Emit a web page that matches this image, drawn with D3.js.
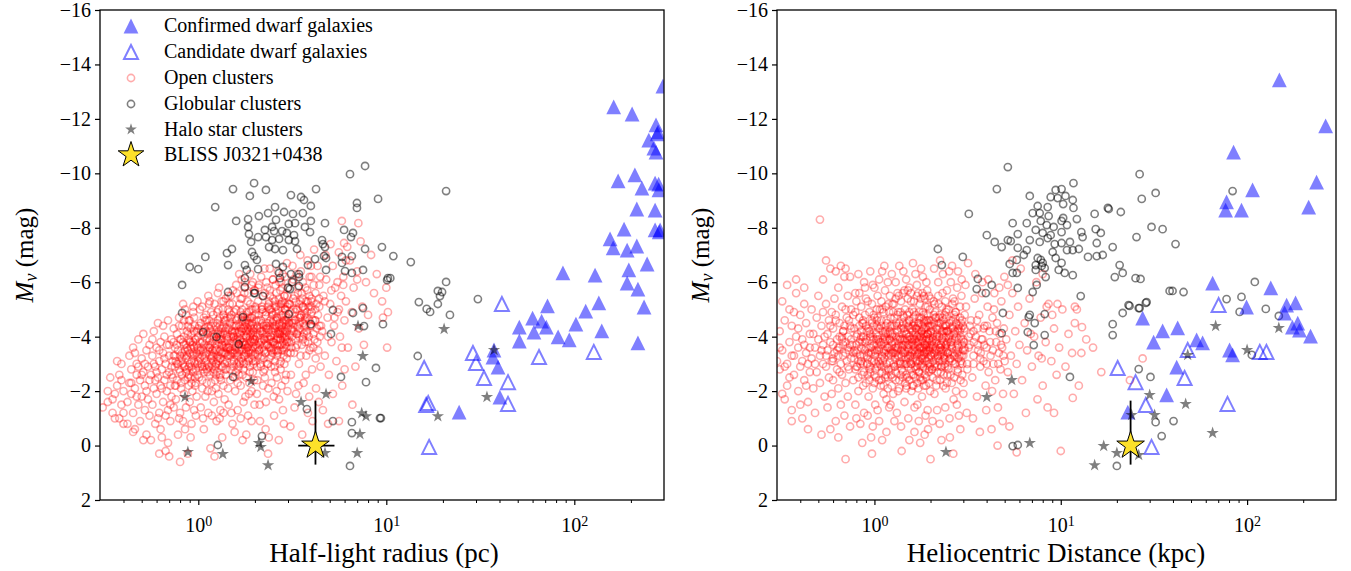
<!DOCTYPE html>
<html><head><meta charset="utf-8">
<script src="https://cdn.jsdelivr.net/npm/d3@7"></script>
<style>
body{margin:0;background:#fff}
svg{display:block}
text{font-family:"Liberation Serif","Times New Roman",serif;fill:#000}
</style>
</head><body>
<svg id="c" width="1351" height="571"></svg>
<script>
// ---------------- tick labels / legend ----------------
const yTicks = [-16,-14,-12,-10,-8,-6,-4,-2,0,2];
const xMajor = [1,10,100];
const xMinor = [0.4,0.5,0.6,0.7,0.8,0.9,2,3,4,5,6,7,8,9,20,30,40,50,60,70,80,90,200];
const legendLabels = ["Confirmed dwarf galaxies","Candidate dwarf galaxies","Open clusters","Globular clusters","Halo star clusters","BLISS J0321+0438"];
const xLabels = ["Half-light radius (pc)","Heliocentric Distance (kpc)"];

// ---------------- LEFT PANEL: [half-light radius pc, Mv] ----------------
const dwarfL = [[162,-12.44],[203,-12.18],[272,-11.78],[279,-11.52],[276,-11.45],[249,-11.22],[265,-10.93],[272,-10.78],[296,-13.2],[171,-9.72],[210,-9.94],[229,-9.46],[269,-9.64],[281,-9.6],[282,-9.39],[215,-8.69],[269,-8.65],[286,-7.92],[283,-7.85],[269,-7.92],[184,-7.95],[155,-7.59],[161,-7.26],[191,-7.18],[215,-7.33],[87,-6.34],[129,-6.26],[195,-6.45],[244,-6.67],[191,-5.97],[218,-5.75],[235,-5.09],[72,-5.13],[115,-4.94],[135,-5.24],[60,-4.68],[67,-4.57],[51,-4.35],[71,-4.35],[61,-4.17],[102,-4.46],[140,-4.21],[51,-3.84],[82,-3.99],[94,-3.88],[218,-3.77],[37.4,-3.51],[36.9,-3.25],[39.3,-2.88],[40.2,-1.78],[24.4,-1.23]];
const candL = [[41.2,-5.20],[64.9,-3.25],[127,-3.44],[15.9,-2.85],[28.9,-3.40],[30.0,-3.03],[33.1,-2.48],[44.4,-2.33],[44.4,-1.53],[16.7,-1.56],[16.3,-1.49],[16.9,0.05]];
const haloL = [[0.85,-1.78],[1.91,-2.37],[0.88,0.24],[1.35,0.31],[2.10,-0.09],[2.15,0.05],[2.35,0.72],[3.52,-1.60],[4.78,-1.89],[4.72,0.27],[7.07,-4.39],[7.5,-3.29],[7.4,-1.19],[7.8,-1.08],[7.24,-0.42],[7.0,0.27],[20.3,-4.28],[18.8,-1.08],[34.3,-1.78],[37.4,-3.51]];
const globL = [[7.71,-10.27],[6.41,-9.97],[1.98,-9.64],[1.53,-9.42],[2.29,-9.39],[1.88,-9.17],[4.23,-9.42],[3.11,-9.20],[3.52,-9.13],[3.65,-9.02],[9.04,-9.06],[6.98,-8.91],[6.98,-8.73],[1.23,-8.76],[3.97,-8.80],[2.56,-8.76],[2.35,-8.54],[2.86,-8.58],[3.19,-8.51],[3.60,-8.54],[2.10,-8.43],[1.84,-8.32],[1.59,-8.25],[2.59,-8.29],[3.03,-8.14],[3.27,-8.17],[3.97,-8.25],[4.72,-8.17],[1.84,-8.03],[2.47,-8.03],[2.26,-7.92],[2.53,-7.88],[2.79,-7.88],[2.96,-7.81],[3.23,-7.73],[3.69,-8.03],[3.93,-7.84],[5.96,-7.92],[6.65,-7.81],[6.49,-7.66],[0.90,-7.59],[1.86,-7.77],[2.08,-7.66],[2.29,-7.66],[2.47,-7.55],[2.69,-7.59],[3.03,-7.55],[3.27,-7.51],[4.55,-7.55],[4.60,-7.40],[1.91,-7.48],[2.38,-7.29],[2.56,-7.22],[2.82,-7.18],[3.35,-7.22],[4.72,-7.29],[1.51,-7.22],[1.42,-7.07],[1.93,-7.11],[4.66,-6.96],[4.78,-6.89],[7.71,-7.22],[9.48,-7.29],[10.9,-6.96],[1.09,-6.93],[4.18,-6.85],[5.81,-6.93],[6.56,-6.96],[1.98,-6.96],[2.05,-6.82],[1.44,-6.63],[1.77,-6.63],[2.59,-6.67],[2.82,-6.56],[3.83,-6.63],[5.81,-6.71],[0.90,-6.56],[1.00,-6.48],[1.81,-6.45],[2.08,-6.48],[2.69,-6.34],[3.11,-6.30],[3.43,-6.30],[4.78,-6.45],[6.03,-6.41],[6.56,-6.34],[7.52,-6.45],[13.5,-6.74],[10.2,-6.15],[10.5,-6.15],[1.77,-6.15],[2.72,-6.15],[3.43,-6.19],[3.15,-6.01],[3.43,-5.86],[3.00,-5.79],[0.82,-5.90],[1.77,-5.82],[1.44,-5.64],[1.98,-5.60],[2.21,-5.49],[2.00,-5.60],[3.07,-5.75],[14.9,-5.27],[0.82,-4.87],[1.73,-4.72],[3.03,-4.83],[5.20,-4.98],[6.65,-4.87],[7.52,-5.05],[3.97,-4.46],[5.08,-4.10],[7.61,-4.39],[9.60,-4.46],[1.06,-4.17],[1.25,-3.99],[1.64,-3.73],[1.53,-2.52],[5.74,-2.52],[7.80,-2.33],[8.81,-2.85],[3.78,-1.34],[5.20,-0.90],[6.56,-0.86],[6.56,-0.46],[9.25,-1.01],[2.18,-0.35],[1.27,-0.02],[6.41,0.75],[10.1,-6.08],[20.8,-6.01],[18.8,-5.68],[19.8,-5.64],[19.3,-5.49],[16.4,-5.02],[17.1,-4.91],[18.8,-5.20],[21.8,-4.80],[30.7,-5.38],[14.7,-3.29],[9.36,-1.01],[20.8,-9.35]];
const openL = [
[0.31,-1.4],[0.33,-1.6],[0.35,-1.2],[0.34,-2.5],[0.36,-1.9],[0.37,-2.2],[0.38,-1.0],[0.38,-2.6],[0.39,-1.5],[0.39,-3.0],[0.40,-2.0],[0.40,-0.8],[0.36,-1.0],[0.33,-2.0],[0.37,-3.1],[0.40,-1.2],[0.39,-2.4],[0.35,-1.7],
[0.42,-0.8],[0.42,-1.6],[0.43,-2.3],[0.43,-3.3],[0.44,-1.9],[0.44,-2.8],[0.45,-1.2],[0.45,-3.6],[0.46,-2.1],[0.46,-0.6],[0.47,-2.6],[0.47,-3.0],[0.48,-1.5],[0.48,-3.9],[0.49,-2.4],[0.49,-0.9],[0.50,-3.2],[0.50,-1.8],[0.51,-2.7],[0.51,-4.1],[0.52,-1.3],[0.52,-2.2],[0.53,-3.5],[0.53,-0.4],[0.54,-2.9],[0.54,-1.7],[0.55,-3.7],[0.55,-2.4],[0.44,-2.3],[0.47,-1.8],[0.50,-2.6],[0.53,-2.0],[0.48,-2.9],[0.52,-3.0],[0.46,-3.4],[0.55,-1.1],[0.45,-0.5],[0.51,-0.2],
[0.56,-0.2],[0.56,-2.6],[0.57,-3.3],[0.57,-1.5],[0.58,-4.2],[0.58,-2.1],[0.59,-2.9],[0.59,-0.8],[0.60,-3.6],[0.60,-1.9],[0.61,-2.5],[0.61,-4.5],[0.62,-3.1],[0.62,-1.2],[0.63,-2.2],[0.63,-3.8],[0.64,-0.3],[0.64,-2.8],[0.65,-3.4],[0.65,-1.6],[0.66,-4.0],[0.66,-2.4],[0.67,-3.0],[0.67,0.2],[0.68,-2.0],[0.68,-3.7],[0.69,-1.3],[0.69,-4.6],[0.70,-2.7],[0.70,-3.3],[0.71,-0.9],[0.71,-2.2],[0.72,-3.9],[0.72,-1.8],[0.73,-3.1],[0.73,-2.5],[0.74,-4.3],[0.74,-1.4],[0.75,-2.9],[0.75,-3.6],[0.58,-3.0],[0.60,-2.7],[0.62,-3.5],[0.64,-2.1],[0.66,-3.2],[0.68,-2.6],[0.70,-3.7],[0.72,-2.9],[0.74,-3.3],[0.63,-0.6],[0.69,-0.1],[0.57,-3.9],[0.61,-1.0],[0.65,-4.4],[0.71,-1.5],[0.75,-2.2],[0.59,-2.4],[0.67,-1.1],[0.62,0.3],[0.70,0.4],
[0.76,-3.1],[0.76,-1.7],[0.77,-4.1],[0.77,-2.4],[0.78,-3.5],[0.78,-0.4],[0.79,-2.8],[0.79,-4.7],[0.80,-1.2],[0.80,-3.3],[0.81,-2.1],[0.81,-3.9],[0.82,-2.6],[0.82,-4.4],[0.83,-0.9],[0.83,-3.0],[0.84,-1.9],[0.84,-3.7],[0.85,-2.4],[0.85,-5.0],[0.86,-3.2],[0.86,-1.4],[0.87,-4.2],[0.87,-2.8],[0.88,0.3],[0.88,-3.5],[0.89,-2.2],[0.89,-4.6],[0.90,-3.0],[0.90,-1.6],[0.91,-3.8],[0.91,-2.5],[0.92,-4.1],[0.92,-0.8],[0.93,-3.3],[0.93,-2.0],[0.94,-4.9],[0.94,-2.7],[0.95,-3.6],[0.95,-1.3],[0.96,-3.0],[0.96,-4.4],[0.97,-2.3],[0.97,-3.9],[0.98,-1.8],[0.98,-3.4],[0.99,-2.6],[0.99,-5.3],[1.00,-3.1],[1.00,-4.0],[0.78,-3.0],[0.80,-2.7],[0.82,-3.4],[0.84,-2.9],[0.86,-3.7],[0.88,-2.5],[0.90,-3.4],[0.92,-2.9],[0.94,-3.8],[0.96,-2.2],[0.98,-4.2],[0.79,-1.0],[0.85,-0.6],[0.91,-0.3],[0.97,-1.1],[0.83,-5.2],[0.89,-3.9],[0.95,-4.7],[0.77,-3.7],[0.81,-3.1],[0.87,-3.3],[0.93,-3.7],[0.99,-3.6],[0.76,-2.2],[0.84,-4.6],[0.92,-2.3],[0.80,0.6],
[1.01,-2.5],[1.02,-3.8],[1.03,-1.4],[1.03,-4.5],[1.04,-3.0],[1.05,-2.1],[1.05,-5.1],[1.06,-3.5],[1.07,-0.6],[1.07,-4.0],[1.08,-2.7],[1.09,-3.3],[1.09,-1.8],[1.10,-4.8],[1.11,-3.9],[1.11,-2.3],[1.12,-3.0],[1.13,-5.5],[1.13,-1.2],[1.14,-3.6],[1.15,-2.6],[1.15,-4.3],[1.16,0.1],[1.17,-3.2],[1.17,-4.9],[1.18,-2.0],[1.19,-3.8],[1.19,-2.9],[1.20,-4.5],[1.21,-1.6],[1.21,-3.4],[1.22,-5.2],[1.23,-2.4],[1.23,-4.1],[1.24,-3.0],[1.25,-0.9],[1.25,-3.7],[1.26,-2.7],[1.27,-4.6],[1.27,-3.3],[1.28,-1.9],[1.29,-4.0],[1.29,-5.8],[1.30,-2.5],[1.31,-3.5],[1.31,-1.3],[1.32,-4.3],[1.33,-2.9],[1.33,-3.9],[1.34,-0.3],[1.35,-3.1],[1.35,-5.0],[1.36,-2.2],[1.37,-4.7],[1.37,-3.6],[1.38,-1.7],[1.39,-4.2],[1.39,-2.8],[1.40,-3.4],[1.40,-5.4],[1.02,-3.2],[1.04,-4.2],[1.06,-2.8],[1.08,-3.7],[1.10,-3.1],[1.12,-4.1],[1.14,-2.9],[1.16,-3.7],[1.18,-3.3],[1.20,-2.7],[1.22,-3.6],[1.24,-4.4],[1.26,-3.2],[1.28,-3.8],[1.30,-4.4],[1.32,-3.2],[1.34,-3.7],[1.36,-4.1],[1.38,-3.0],[1.12,-2.0],[1.18,-1.1],[1.24,-2.1],[1.30,-1.0],[1.36,-1.2],[1.06,-1.0],[1.22,0.4],[1.09,-4.6],[1.15,-5.3],[1.27,-5.6],[1.33,-5.3],[1.03,-3.5],[1.19,-3.5],[1.31,-2.6],[1.38,-4.6],[1.14,-4.6],[1.26,-4.9],
[1.41,-2.8],[1.42,-4.0],[1.43,-3.3],[1.44,-5.0],[1.45,-1.5],[1.46,-3.7],[1.47,-4.5],[1.48,-2.4],[1.49,-5.5],[1.50,-3.1],[1.51,-4.2],[1.52,-0.8],[1.53,-3.8],[1.54,-2.9],[1.55,-4.9],[1.56,-3.4],[1.57,-2.0],[1.58,-4.4],[1.59,-5.9],[1.60,-3.0],[1.61,-3.9],[1.62,-1.3],[1.63,-4.7],[1.64,-2.6],[1.65,-3.5],[1.66,-5.2],[1.67,-4.1],[1.68,-2.2],[1.69,-3.2],[1.70,-6.1],[1.71,-4.6],[1.72,-0.2],[1.73,-3.7],[1.74,-2.8],[1.75,-4.3],[1.76,-5.6],[1.77,-3.3],[1.78,-1.8],[1.79,-4.0],[1.80,-2.5],[1.81,-4.9],[1.82,-3.6],[1.83,-5.3],[1.84,-1.1],[1.85,-3.1],[1.86,-4.5],[1.87,-2.3],[1.88,-3.9],[1.89,-6.3],[1.90,-3.4],[1.91,-4.7],[1.92,-2.0],[1.93,-3.8],[1.94,-5.0],[1.95,-2.7],[1.96,-4.2],[1.97,-3.0],[1.98,-5.7],[1.99,-1.5],[2.00,-3.6],[1.42,-3.6],[1.45,-4.3],[1.48,-3.5],[1.51,-3.0],[1.54,-4.0],[1.57,-3.6],[1.60,-4.6],[1.63,-3.3],[1.66,-3.9],[1.69,-4.3],[1.72,-3.5],[1.75,-3.0],[1.78,-4.2],[1.81,-3.8],[1.84,-4.3],[1.87,-3.5],[1.90,-4.1],[1.93,-4.5],[1.96,-3.3],[1.99,-3.9],[1.44,-2.1],[1.50,-1.2],[1.56,-0.5],[1.62,-2.3],[1.68,-1.0],[1.74,-1.6],[1.80,-0.4],[1.86,-1.9],[1.92,-0.9],[1.98,-2.4],[1.47,-5.2],[1.53,-5.7],[1.59,-5.0],[1.65,-6.3],[1.71,-5.4],[1.77,-6.0],[1.83,-4.6],[1.89,-5.2],[1.95,-6.0],[1.43,-4.7],[1.58,-2.7],[1.73,-4.8],[1.88,-2.9],[1.61,-3.4],[1.79,-3.4],
[2.02,-3.1],[2.04,-4.6],[2.06,-2.4],[2.08,-5.3],[2.10,-3.8],[2.12,-1.5],[2.14,-4.2],[2.16,-6.2],[2.18,-3.3],[2.20,-4.9],[2.22,-2.7],[2.24,-3.9],[2.26,-5.6],[2.28,-0.6],[2.30,-4.4],[2.32,-3.0],[2.34,-5.1],[2.36,-2.1],[2.38,-3.6],[2.40,-6.5],[2.42,-4.0],[2.44,-2.9],[2.46,-4.8],[2.48,-3.4],[2.50,-5.4],[2.52,-1.8],[2.54,-4.3],[2.56,-3.1],[2.58,-5.9],[2.60,-3.9],[2.62,-2.5],[2.64,-4.7],[2.66,-3.5],[2.68,-0.2],[2.70,-5.2],[2.72,-4.1],[2.74,-2.8],[2.76,-6.0],[2.78,-3.7],[2.80,-4.5],[2.82,-1.3],[2.84,-3.3],[2.86,-5.5],[2.88,-4.0],[2.90,-2.4],[2.92,-4.8],[2.94,-3.6],[2.96,-6.7],[2.98,-2.0],[3.00,-4.3],[2.03,-3.7],[2.07,-4.1],[2.11,-3.5],[2.15,-2.9],[2.19,-4.5],[2.23,-3.2],[2.27,-4.0],[2.31,-3.7],[2.35,-4.3],[2.39,-3.2],[2.43,-5.0],[2.47,-3.8],[2.51,-4.6],[2.55,-3.7],[2.59,-4.4],[2.63,-3.3],[2.67,-4.2],[2.71,-3.0],[2.75,-4.8],[2.79,-3.5],[2.83,-4.2],[2.87,-3.0],[2.91,-3.9],[2.95,-4.6],[2.99,-3.4],[2.05,-1.9],[2.13,-0.9],[2.21,-2.2],[2.29,-1.6],[2.37,-0.3],[2.45,-2.3],[2.53,-1.1],[2.61,-2.0],[2.69,-1.7],[2.77,-2.2],[2.85,-0.8],[2.93,-2.6],[2.09,-5.8],[2.17,-5.0],[2.25,-6.5],[2.33,-5.8],[2.41,-5.5],[2.49,-6.1],[2.57,-5.1],[2.65,-6.4],[2.73,-5.7],[2.81,-6.3],[2.89,-5.0],[2.97,-5.5],[2.14,-3.0],[2.44,-3.5],[2.74,-3.9],[2.26,-2.5],[2.56,-2.7],[2.86,-4.6],[2.35,0.3],
[3.03,-3.8],[3.07,-5.2],[3.11,-2.6],[3.15,-4.5],[3.19,-6.0],[3.23,-3.4],[3.27,-4.9],[3.31,-1.9],[3.35,-4.1],[3.39,-5.6],[3.43,-3.0],[3.47,-4.7],[3.51,-6.4],[3.55,-3.7],[3.59,-5.1],[3.63,-2.3],[3.67,-4.4],[3.71,-5.8],[3.75,-3.3],[3.79,-4.9],[3.83,-1.2],[3.87,-4.0],[3.91,-6.2],[3.95,-3.6],[3.99,-5.3],[4.03,-2.8],[4.07,-4.6],[4.11,-5.9],[4.15,-3.9],[4.19,-5.0],[4.23,-2.1],[4.27,-4.3],[4.31,-6.6],[4.35,-3.5],[4.39,-5.4],[4.43,-4.0],[4.47,-2.9],[3.05,-4.5],[3.13,-3.6],[3.21,-4.2],[3.29,-3.9],[3.37,-5.0],[3.45,-4.0],[3.53,-4.8],[3.61,-3.9],[3.69,-4.6],[3.77,-4.2],[3.85,-5.1],[3.93,-4.4],[4.01,-4.9],[4.09,-3.6],[4.17,-4.6],[4.25,-5.2],[4.33,-4.8],[4.41,-4.4],[3.09,-0.7],[3.25,-1.4],[3.41,-2.2],[3.57,-0.4],[3.73,-2.6],[3.89,-1.8],[4.05,-0.9],[4.21,-3.2],[4.37,-1.6],[3.17,-6.6],[3.49,-7.0],[3.81,-6.8],[4.13,-7.2],[4.45,-6.2],[3.33,-6.3],[3.97,-6.6],
[4.55,-4.2],[4.63,-5.5],[4.71,-3.3],[4.79,-6.1],[4.87,-4.7],[4.95,-2.6],[5.03,-5.2],[5.11,-3.8],[5.19,-6.6],[5.27,-4.4],[5.35,-5.8],[5.43,-3.1],[5.51,-4.9],[5.59,-7.1],[5.67,-4.0],[5.75,-5.5],[5.83,-2.2],[5.91,-6.2],[5.99,-4.6],[6.10,-5.3],[6.25,-3.6],[6.40,-6.8],[6.55,-4.9],[6.70,-5.8],[6.85,-2.9],[7.00,-6.4],[7.15,-4.3],[7.30,-7.5],[7.45,-5.1],[7.60,-3.7],[7.80,-6.0],[8.00,-4.8],[8.30,-7.0],[8.60,-5.6],[8.90,-6.3],[4.60,-1.3],[4.90,-0.8],[5.20,-1.9],[5.60,-0.9],[6.00,-2.8],[6.60,-1.5],[4.75,-7.0],[5.05,-7.4],[5.50,-6.0],[6.20,-7.3],[5.96,-7.44],[6.1,-6.8],[7.0,-6.1],[5.8,-8.25],[7.1,-8.17],[10.0,-5.8],[9.5,-5.3],[10.2,-4.9],[9.6,-4.7],[10.1,-3.6],[5.80,-3.6],
[1.05,-3.3],[1.10,-3.6],[1.15,-3.9],[1.20,-3.1],[1.25,-3.5],[1.30,-3.9],[1.35,-4.3],[1.40,-3.7],[1.45,-3.3],[1.50,-4.0],[1.55,-4.4],[1.60,-3.8],[1.65,-4.2],[1.70,-3.6],[1.75,-4.6],[1.80,-4.0],[1.85,-3.7],[1.90,-4.4],[1.95,-3.9],[2.00,-4.8],[2.05,-4.3],[2.10,-3.5],[2.15,-4.6],[2.20,-4.1],[2.25,-3.7],[2.30,-4.9],[2.35,-4.5],[2.40,-3.9],[2.45,-4.2],[2.50,-4.8],[2.55,-4.1],[2.60,-4.6],[2.65,-3.9],[2.70,-4.4],[2.75,-5.1],[2.80,-4.0],[2.85,-4.5],[2.90,-5.0],[2.95,-4.2],[3.00,-4.7],[3.10,-4.3],[3.20,-5.0],[3.30,-4.6],[3.40,-4.2],[3.50,-5.3],[3.60,-4.5],[3.70,-5.0],[3.80,-4.7],[3.90,-5.5],[4.00,-4.4],
[1.08,-2.9],[1.13,-4.4],[1.18,-4.0],[1.23,-2.9],[1.28,-4.2],[1.33,-3.4],[1.38,-3.8],[1.43,-4.1],[1.48,-4.7],[1.53,-3.4],[1.58,-3.9],[1.63,-2.8],[1.68,-4.9],[1.73,-3.1],[1.78,-3.7],[1.83,-4.1],[1.88,-4.7],[1.93,-3.2],[1.98,-4.3],[2.03,-5.0],[2.08,-3.3],[2.13,-3.9],[2.18,-5.1],[2.23,-4.4],[2.28,-3.4],[2.33,-4.0],[2.38,-5.3],[2.43,-3.6],[2.48,-4.5],[2.53,-3.5],[2.58,-4.9],[2.63,-3.7],[2.68,-5.4],[2.73,-4.2],[2.78,-4.7],[2.83,-3.8],[2.88,-5.2],[2.93,-4.4],[2.98,-3.9],[3.05,-5.2],[3.15,-4.0],[3.25,-5.5],[3.35,-3.7],[3.45,-4.8],[3.55,-5.6],[3.65,-4.1],[3.75,-5.3],[3.85,-3.8],[3.95,-5.0],[0.85,-3.5],[0.90,-3.8],[0.95,-3.3],[0.88,-4.1],[0.93,-2.8],[0.98,-3.7]];
const openLCore = [
[0.82,-3.2],[0.84,-4.0],[0.87,-3.6],[0.89,-2.9],[0.91,-4.3],[0.94,-3.4],[0.96,-3.9],[0.99,-3.0],[1.01,-4.4],[1.03,-3.6],[1.06,-4.1],[1.08,-3.2],[1.11,-4.6],[1.13,-3.7],[1.16,-4.2],[1.18,-3.0],[1.21,-4.0],[1.23,-3.5],[1.26,-4.5],[1.28,-3.1],[1.31,-4.1],[1.33,-3.7],[1.36,-4.8],[1.38,-3.4],[1.41,-4.3],[1.43,-3.9],[1.46,-4.9],[1.48,-3.3],[1.51,-4.4],[1.53,-4.0],[1.56,-3.5],[1.58,-4.7],[1.61,-4.1],[1.63,-3.6],[1.66,-4.4],[1.68,-3.9],[1.71,-5.0],[1.73,-4.3],[1.76,-3.7],[1.78,-4.5],[1.81,-4.2],[1.83,-3.6],[1.86,-4.9],[1.88,-4.0],[1.91,-3.5],[1.93,-4.7],[1.96,-4.4],[1.98,-3.8],[2.01,-5.1],[2.04,-4.0],[2.07,-3.6],[2.10,-4.6],[2.13,-4.3],[2.16,-3.8],[2.19,-5.0],[2.22,-4.2],[2.25,-3.9],[2.28,-4.8],[2.31,-4.5],[2.34,-3.7],[2.37,-5.2],[2.40,-4.4],[2.43,-4.0],[2.46,-4.9],[2.49,-4.3],[2.52,-3.8],[2.55,-5.3],[2.58,-4.2],[2.61,-4.7],[2.64,-4.0],[2.67,-5.0],[2.70,-4.5],[2.73,-3.9],[2.76,-5.2],[2.79,-4.3],[2.82,-4.8],[2.85,-4.1],[2.88,-5.5],[2.91,-4.6],[2.94,-4.0],[2.97,-5.1],[3.02,-4.5],[3.08,-4.9],[3.14,-4.2],[3.20,-5.4],[3.26,-4.6],[3.32,-5.0],[3.38,-4.4],[3.44,-5.2],[3.50,-4.7],[3.58,-5.4],[3.66,-4.8],[3.74,-4.4],[3.82,-5.3],[3.90,-4.6],[3.98,-5.1],
[0.83,-3.8],[0.86,-2.7],[0.88,-4.4],[0.92,-3.1],[0.95,-4.2],[0.97,-2.8],[1.00,-3.5],[1.02,-2.9],[1.05,-3.8],[1.07,-4.7],[1.10,-3.4],[1.12,-2.7],[1.15,-3.6],[1.17,-4.4],[1.20,-3.3],[1.22,-2.8],[1.25,-3.9],[1.27,-4.1],[1.30,-3.2],[1.32,-3.9],[1.35,-2.9],[1.37,-4.4],[1.40,-3.6],[1.42,-3.1],[1.45,-4.0],[1.47,-3.6],[1.50,-3.4],[1.52,-4.1],[1.55,-3.1],[1.57,-4.2],[1.60,-3.3],[1.62,-4.0],[1.65,-3.7],[1.67,-3.0],[1.70,-4.2],[1.72,-3.8],[1.75,-3.3],[1.77,-4.4],[1.80,-3.5],[1.82,-4.7],[1.85,-3.2],[1.87,-4.2],[1.90,-3.8],[1.92,-4.3],[1.95,-3.6],[1.97,-4.0],[2.00,-3.4],[2.06,-4.4],[2.12,-3.7],[2.18,-4.2],[2.24,-3.5],[2.30,-4.1],[2.36,-3.9],[2.42,-4.6],[2.48,-3.6],[2.54,-4.4],[2.60,-3.5],[2.66,-4.1],[2.72,-3.7],[2.78,-4.4],[2.84,-3.6],[2.90,-4.2],[2.96,-3.8],[3.04,-4.1],[3.12,-3.8],[3.22,-4.5],[3.34,-4.1],[3.46,-4.5],[3.60,-4.0],[3.72,-4.7],
[0.72,-2.6],[0.74,-3.8],[0.77,-3.0],[0.79,-4.4],[0.81,-2.3],[0.84,-3.3],[0.86,-4.8],[0.89,-2.6],[0.91,-3.6],[0.94,-5.1],[0.96,-2.5],[0.99,-3.3],[1.02,-5.0],[1.05,-2.4],[1.08,-4.3],[1.11,-2.8],[1.14,-5.2],[1.17,-2.3],[1.20,-4.8],[1.24,-2.6],[1.28,-5.0],[1.32,-2.4],[1.36,-5.3],[1.40,-2.6],[1.44,-5.5],[1.48,-2.8],[1.52,-5.2],[1.56,-2.5],[1.60,-5.6],[1.64,-2.9],[1.68,-5.4],[1.72,-2.6],[1.76,-5.8],[1.80,-3.0],[1.84,-5.6],[1.88,-2.7],[1.92,-5.9],[1.96,-3.1],[2.00,-5.7],[2.05,-2.9],[2.10,-5.9],[2.15,-3.2],[2.20,-5.5],[2.25,-2.8],[2.30,-6.0],[2.35,-3.0],[2.40,-5.7],[2.45,-3.3],[2.50,-6.1],[2.55,-2.9],[2.60,-5.6],[2.65,-3.4],[2.70,-6.0],[2.75,-3.1],[2.80,-5.8],[2.85,-3.5],[2.90,-6.2],[2.95,-3.2],[3.00,-5.8],[3.10,-3.4],[3.20,-6.1],[3.30,-3.6],[3.40,-5.8],[3.50,-3.3],[3.60,-6.0],[3.70,-3.8],[3.80,-5.7],[3.90,-3.5],[4.00,-6.2],[4.10,-4.1],[4.20,-5.6],[4.30,-3.8],[4.40,-5.9],[4.50,-4.4],[4.70,-5.3],[4.90,-4.0],[5.10,-5.7],[5.30,-4.7],[5.60,-5.0],[5.90,-5.9],
[0.75,-3.3],[0.80,-3.9],[0.85,-2.9],[0.90,-4.6],[0.95,-3.1],[1.00,-4.3],[1.05,-2.9],[1.10,-4.2],[1.15,-3.3],[1.20,-4.1],[1.25,-3.0],[1.30,-4.7],[1.35,-3.4],[1.40,-4.6],[1.45,-3.6],[1.50,-4.8],[1.55,-3.7],[1.60,-4.4],[1.65,-3.1],[1.70,-4.7],[1.75,-3.8],[1.80,-4.6],[1.85,-3.4],[1.90,-5.0],[1.95,-4.1],[2.00,-3.9],[2.10,-4.8],[2.20,-3.6],[2.30,-4.3],[2.40,-5.0],[2.50,-3.8],[2.60,-5.1],[2.70,-4.1],[2.80,-5.3],[2.90,-3.7],[3.00,-5.2],[3.15,-4.6],[3.30,-5.3],[3.45,-4.3],[3.60,-5.1],[3.80,-4.1],[4.00,-5.4],[4.20,-4.6],[4.40,-5.1]];
const blissL = {x:4.2, y:0.0, xlo:3.4, xhi:5.3, ylo:-1.65, yhi:0.7};

// ---------------- RIGHT PANEL: [heliocentric distance kpc, Mv] ----------------
const dwarfR = [[149,-13.43],[264,-11.74],[84.6,-10.78],[236,-9.68],[107,-9.39],[77.6,-8.95],[76.7,-8.65],[93.3,-8.65],[214,-8.76],[65.3,-5.97],[134,-5.79],[27.5,-4.68],[35.2,-4.21],[42.4,-4.32],[31.5,-3.80],[53.6,-3.88],[57.7,-3.77],[99.3,-5.09],[163,-5.16],[182,-5.24],[159,-4.87],[187,-4.50],[175,-4.35],[191,-4.24],[219,-4.02],[80.5,-3.51],[83.6,-3.33],[41.9,-2.88],[37.0,-1.86],[22.9,-1.23]];
const candR = [[70.3,-5.16],[48.0,-3.51],[117,-3.44],[127,-3.44],[20.2,-2.85],[25.2,-2.33],[28.6,-1.49],[30.7,0.05],[78.5,-1.53],[46.2,-2.48]];
const haloR = [[5.46,-2.41],[4.01,-1.78],[2.42,0.24],[6.82,-0.09],[17.0,0.02],[15.2,0.72],[20.0,0.27],[26.2,0.35],[30.0,-1.86],[31.9,-1.12],[24.0,-1.12],[67.8,-4.39],[148,-4.32],[48.0,-3.33],[100,-3.51],[46.8,-1.53],[65.3,-0.46]];
const globR = [[5.20,-10.23],[4.54,-9.42],[11.7,-9.64],[9.39,-9.39],[10.1,-9.42],[6.82,-9.17],[8.83,-9.13],[9.63,-9.09],[10.6,-9.17],[11.6,-9.02],[10.3,-8.87],[7.52,-8.80],[8.51,-8.76],[11.7,-8.73],[7.07,-8.54],[7.71,-8.54],[8.61,-8.43],[3.21,-8.51],[10.3,-8.36],[12.2,-8.32],[7.81,-8.25],[10.1,-8.25],[5.52,-8.17],[6.57,-8.17],[8.41,-8.10],[9.16,-8.03],[10.8,-8.10],[7.34,-7.92],[8.00,-7.81],[8.83,-7.73],[10.1,-7.84],[5.88,-7.77],[5.20,-7.55],[4.01,-7.73],[4.42,-7.48],[4.82,-7.29],[5.39,-7.51],[6.82,-7.55],[7.71,-7.48],[8.51,-7.62],[9.28,-7.40],[10.1,-7.44],[11.2,-7.48],[13.1,-7.66],[12.9,-7.84],[15.4,-7.95],[16.4,-7.81],[15.6,-7.44],[18.1,-8.69],[21.0,-8.58],[15.2,-8.51],[26.5,-9.97],[32.3,-9.28],[27.2,-9.06],[30.7,-8.03],[35.2,-7.95],[25.5,-7.66],[19.0,-7.29],[16.8,-7.00],[14.0,-6.93],[15.6,-6.96],[5.88,-7.26],[6.57,-7.18],[6.33,-7.00],[5.81,-6.82],[5.32,-6.67],[7.34,-6.63],[7.52,-6.89],[8.00,-6.71],[9.05,-7.11],[9.39,-6.89],[10.1,-6.71],[10.8,-7.18],[11.6,-7.18],[12.5,-7.22],[5.52,-6.34],[5.81,-6.34],[7.34,-6.45],[8.20,-6.52],[8.30,-6.19],[9.75,-6.45],[10.5,-6.34],[11.6,-6.26],[20.7,-6.63],[19.5,-6.19],[21.5,-6.34],[25.2,-6.15],[26.8,-6.12],[12.8,-5.49],[28.9,-5.27],[26.5,-5.05],[23.1,-5.16],[21.5,-4.87],[19.0,-4.46],[19.0,-4.06],[38.4,-5.68],[2.98,-6.93],[2.19,-7.22],[2.30,-6.63],[3.59,-6.12],[4.26,-5.90],[3.54,-5.75],[3.96,-5.60],[5.88,-5.79],[7.43,-5.90],[7.07,-5.64],[4.89,-4.87],[6.82,-4.80],[8.20,-4.83],[7.25,-4.50],[6.65,-4.17],[4.82,-4.13],[8.20,-4.06],[7.16,-3.69],[7.81,-6.82],[7.90,-6.60],[17.9,-8.73],[41.3,-7.40],[83.6,-9.35],[39.8,-5.68],[45.6,-5.64],[110,-6.01],[77.6,-5.38],[93.3,-5.46],[91.2,-4.91],[126,-5.02],[148,-4.76],[106,-3.33],[6.73,-4.72],[11.2,-2.52],[23.4,-5.13],[26.2,-5.05],[28.6,-5.24],[26.2,-2.81],[30.3,-2.52],[40.3,-0.90],[34.8,-0.35],[32.3,-0.86],[20.0,0.75],[5.52,0.02],[5.88,-0.02]];
const openR = [
[0.31,-4.2],[0.31,-2.8],[0.32,-5.3],[0.32,-3.5],[0.33,-1.7],[0.33,-4.6],[0.34,-3.0],[0.34,-2.2],[0.35,-5.0],[0.35,-3.8],[0.36,-1.3],[0.36,-4.4],[0.37,-2.6],[0.37,-3.3],[0.38,-5.6],[0.38,-4.0],[0.39,-2.0],[0.39,-3.6],[0.40,-4.8],[0.40,-2.9],[0.41,-1.0],[0.41,-3.9],[0.42,-5.2],[0.42,-2.4],[0.43,-3.4],[0.43,-4.5],[0.44,-1.6],[0.44,-3.0],[0.45,-4.1],[0.45,-2.7],[0.31,-3.6],[0.33,-2.9],[0.35,-2.5],[0.37,-4.9],[0.39,-4.3],[0.41,-3.1],[0.43,-2.2],[0.45,-3.6],[0.32,-1.9],[0.36,-0.9],[0.40,-1.5],[0.44,-0.6],[0.34,-5.9],[0.38,-6.1],[0.42,-5.8],[0.30,-3.1],[0.36,-3.3],[0.42,-3.7],
[0.46,-3.2],[0.46,-5.0],[0.47,-2.1],[0.47,-4.1],[0.48,-3.6],[0.48,-1.2],[0.49,-4.7],[0.49,-2.7],[0.50,-3.9],[0.50,-5.5],[0.51,-2.3],[0.51,-3.3],[0.52,-4.4],[0.52,-0.4],[0.53,-3.0],[0.53,-6.1],[0.54,-1.8],[0.54,-4.0],[0.55,-2.9],[0.55,-5.2],[0.56,-3.5],[0.56,-1.4],[0.57,-4.6],[0.57,-2.5],[0.58,-3.8],[0.58,-6.5],[0.59,-3.1],[0.59,-1.9],[0.60,-4.3],[0.60,-2.4],[0.61,-5.4],[0.61,-3.4],[0.62,-0.9],[0.62,-4.8],[0.63,-2.8],[0.63,-3.9],[0.64,-5.8],[0.64,-2.1],[0.65,-3.6],[0.65,-4.5],[0.66,-1.5],[0.66,-3.0],[0.67,-5.1],[0.67,-2.6],[0.68,-4.2],[0.68,-3.3],[0.69,-6.2],[0.69,-1.1],[0.70,-3.8],[0.70,-2.3],[0.71,-4.7],[0.71,-3.1],[0.72,-5.5],[0.72,-1.8],[0.73,-3.5],[0.73,-2.8],[0.74,-4.4],[0.74,-0.7],[0.75,-3.2],[0.75,-5.0],[0.48,-3.0],[0.52,-3.5],[0.56,-4.1],[0.60,-3.1],[0.64,-3.3],[0.68,-3.7],[0.72,-4.0],[0.51,-8.3],[0.55,-6.8],[0.62,-6.4],[0.66,-6.6],[0.70,-6.5],[0.74,-6.2],[0.58,-0.6],[0.64,-0.3],[0.70,0.5],[0.53,-4.9],[0.59,-4.9],[0.67,-4.0],[0.73,-4.6],
[0.76,-3.7],[0.77,-2.4],[0.77,-4.8],[0.78,-3.2],[0.79,-5.6],[0.79,-1.5],[0.80,-4.0],[0.81,-2.9],[0.81,-3.5],[0.82,-6.3],[0.82,-2.0],[0.83,-4.4],[0.84,-3.0],[0.84,-0.8],[0.85,-5.1],[0.86,-3.8],[0.86,-2.6],[0.87,-4.6],[0.88,-3.3],[0.88,-1.2],[0.89,-5.8],[0.90,-3.9],[0.90,-2.3],[0.91,-4.2],[0.92,-3.0],[0.92,-5.3],[0.93,-1.8],[0.94,-3.6],[0.94,-4.9],[0.95,-2.7],[0.96,-3.4],[0.96,-0.3],[0.97,-4.5],[0.98,-2.1],[0.98,-5.9],[0.99,-3.7],[1.00,-3.1],[1.00,-4.7],[1.01,-1.5],[1.02,-4.1],[1.02,-2.5],[1.03,-3.5],[1.04,-5.5],[1.04,-2.9],[1.05,-4.3],[1.06,-0.9],[1.06,-3.8],[1.07,-5.0],[1.08,-2.2],[1.08,-3.2],[1.09,-4.6],[1.10,-6.4],[1.10,-2.7],[1.11,-3.9],[1.12,-1.9],[1.12,-4.9],[1.13,-3.4],[1.14,-2.5],[1.14,-5.7],[1.15,-4.1],[1.16,-3.0],[1.16,-0.5],[1.17,-4.5],[1.18,-3.6],[1.18,-2.1],[1.19,-5.2],[1.20,-3.9],[1.20,-1.4],[0.78,-4.3],[0.80,-3.4],[0.83,-3.8],[0.85,-3.1],[0.87,-4.0],[0.89,-3.5],[0.91,-3.3],[0.93,-4.3],[0.95,-3.9],[0.97,-3.1],[0.99,-4.4],[1.01,-3.4],[1.03,-4.4],[1.05,-3.6],[1.07,-3.0],[1.09,-3.7],[1.11,-4.2],[1.13,-3.8],[1.15,-3.5],[1.17,-3.9],[1.19,-3.3],[0.80,-1.0],[0.86,-0.1],[0.92,-1.1],[0.98,-0.7],[1.04,-1.3],[1.10,-0.2],[1.16,-1.7],[0.83,-5.6],[0.88,-6.0],[0.95,-6.4],[1.00,-5.8],[1.06,-6.1],[1.13,-6.6],[1.18,-6.0],[0.79,-2.8],[0.87,-2.2],[0.94,-2.4],[1.01,-2.8],[1.09,-2.4],[1.15,-2.8],[0.97,0.3],
[1.21,-3.1],[1.22,-4.4],[1.23,-2.6],[1.24,-3.8],[1.25,-5.2],[1.26,-1.9],[1.27,-3.4],[1.28,-4.7],[1.29,-2.9],[1.30,-6.0],[1.31,-3.6],[1.32,-1.2],[1.33,-4.2],[1.34,-3.0],[1.35,-5.5],[1.36,-2.4],[1.37,-3.9],[1.38,-4.9],[1.39,-0.7],[1.40,-3.3],[1.41,-4.4],[1.42,-2.7],[1.43,-6.4],[1.44,-3.7],[1.45,-1.6],[1.46,-5.0],[1.47,-3.2],[1.48,-4.1],[1.49,-2.2],[1.50,-3.6],[1.51,-5.7],[1.52,-2.9],[1.53,-4.6],[1.54,-0.2],[1.55,-3.9],[1.56,-3.1],[1.57,-5.3],[1.58,-2.0],[1.59,-4.3],[1.60,-3.5],[1.61,-6.7],[1.62,-2.6],[1.63,-4.0],[1.64,-1.4],[1.65,-3.4],[1.66,-4.8],[1.67,-2.8],[1.68,-3.8],[1.69,-5.9],[1.70,-2.3],[1.71,-4.4],[1.72,-3.0],[1.73,-0.9],[1.74,-4.9],[1.75,-3.6],[1.76,-2.5],[1.77,-5.4],[1.78,-3.2],[1.79,-4.2],[1.80,-1.8],[1.81,-3.9],[1.82,-6.2],[1.83,-2.9],[1.84,-4.6],[1.85,-3.4],[1.86,-0.4],[1.87,-3.7],[1.88,-5.1],[1.89,-2.2],[1.90,-4.0],[1.91,-3.1],[1.92,-5.7],[1.93,-1.3],[1.94,-3.5],[1.95,-4.4],[1.96,-2.7],[1.97,-3.9],[1.98,-5.0],[1.99,-2.0],[2.00,-3.3],
[1.21,-3.9],[1.23,-3.5],[1.25,-4.1],[1.27,-3.0],[1.29,-3.8],[1.31,-4.5],[1.33,-3.3],[1.35,-4.0],[1.37,-3.1],[1.39,-4.3],[1.41,-3.6],[1.43,-3.0],[1.45,-4.2],[1.47,-3.8],[1.49,-4.5],[1.51,-3.3],[1.53,-3.7],[1.55,-4.3],[1.57,-3.0],[1.59,-3.8],[1.61,-3.2],[1.63,-4.5],[1.65,-3.9],[1.67,-4.3],[1.69,-3.3],[1.71,-3.7],[1.73,-4.1],[1.75,-3.1],[1.77,-4.0],[1.79,-3.6],[1.81,-4.4],[1.83,-3.5],[1.85,-4.1],[1.87,-3.1],[1.89,-4.3],[1.91,-3.7],[1.93,-4.1],[1.95,-3.2],[1.97,-4.6],[1.99,-3.7],
[1.22,-1.5],[1.28,-0.9],[1.34,-2.0],[1.40,0.2],[1.46,-2.3],[1.52,-1.0],[1.58,-2.6],[1.64,-0.5],[1.70,-1.5],[1.76,-0.1],[1.82,-2.4],[1.88,-1.1],[1.94,-0.6],[2.00,0.5],
[1.24,-6.3],[1.30,-5.4],[1.36,-6.6],[1.42,-5.6],[1.48,-6.1],[1.54,-5.8],[1.60,-5.0],[1.66,-6.3],[1.72,-5.6],[1.78,-6.5],[1.84,-5.5],[1.90,-6.0],[1.96,-5.5],[1.25,-2.5],[1.38,-2.6],[1.50,-2.5],[1.62,-2.2],[1.74,-2.7],[1.86,-2.6],[1.98,-2.9],
[2.02,-4.2],[2.04,-2.8],[2.06,-3.6],[2.08,-5.3],[2.10,-1.9],[2.12,-4.7],[2.14,-3.2],[2.16,-2.4],[2.18,-4.0],[2.20,-6.0],[2.22,-3.5],[2.24,-0.8],[2.26,-4.5],[2.28,-2.9],[2.30,-3.9],[2.32,-5.6],[2.34,-2.2],[2.36,-3.3],[2.38,-4.8],[2.40,-1.4],[2.42,-3.7],[2.44,-5.0],[2.46,-2.6],[2.48,-4.2],[2.50,-3.1],[2.52,-6.4],[2.54,-0.3],[2.56,-3.8],[2.58,-4.6],[2.60,-2.3],[2.62,-3.4],[2.64,-5.4],[2.66,-1.7],[2.68,-4.1],[2.70,-3.0],[2.72,-4.9],[2.74,-2.0],[2.76,-3.6],[2.78,-5.8],[2.80,-2.7],[2.82,-4.3],[2.84,-1.1],[2.86,-3.3],[2.88,-4.7],[2.90,-2.4],[2.92,-3.9],[2.94,-6.1],[2.96,-3.0],[2.98,-4.4],[3.00,-1.9],[3.05,-3.5],[3.10,-5.1],[3.15,-2.8],[3.20,-4.0],
[2.03,-3.4],[2.07,-4.1],[2.11,-3.0],[2.15,-3.8],[2.19,-4.4],[2.23,-3.1],[2.27,-3.7],[2.31,-4.2],[2.35,-3.5],[2.39,-3.0],[2.43,-4.4],[2.47,-3.4],[2.51,-4.0],[2.55,-3.2],[2.59,-3.7],[2.63,-4.3],[2.67,-3.3],[2.71,-3.9],[2.75,-4.5],[2.79,-3.4],[2.83,-3.9],[2.87,-4.2],[2.91,-3.1],[2.95,-3.7],[2.99,-3.5],
[2.05,-0.9],[2.17,-1.3],[2.29,-0.2],[2.41,-2.1],[2.53,-1.0],[2.65,0.3],[2.77,-1.5],[2.89,-0.6],[3.01,-2.3],[3.13,-1.2],
[2.09,-6.5],[2.21,-5.2],[2.33,-6.3],[2.45,-5.7],[2.57,-6.0],[2.69,-5.3],[2.81,-6.4],[2.93,-5.5],[3.08,-5.9],[3.18,-6.7],[2.25,-6.8],[2.61,-6.6],
[3.25,-3.7],[3.30,-4.6],[3.35,-2.5],[3.40,-3.3],[3.45,-5.4],[3.50,-4.0],[3.55,-1.8],[3.60,-3.5],[3.65,-4.8],[3.70,-2.9],[3.75,-3.9],[3.80,-6.0],[3.85,-3.1],[3.90,-4.4],[3.95,-2.2],[4.00,-3.6],[4.05,-5.1],[4.10,-2.7],[4.15,-4.2],[4.20,-3.3],[4.25,-0.6],[4.30,-4.7],[4.35,-3.0],[4.40,-5.6],[4.45,-2.4],[4.50,-3.8],[4.55,-4.5],[4.60,-1.4],[4.65,-3.4],[4.70,-4.1],[4.75,-2.8],[4.80,-5.3],[4.85,-3.6],[4.90,-1.9],[4.95,-4.3],[5.00,-3.1],
[3.28,-4.1],[3.42,-3.8],[3.58,-4.3],[3.72,-3.4],[3.88,-3.7],[4.02,-4.4],[4.18,-3.8],[4.32,-3.5],[4.48,-4.2],[4.62,-3.0],[4.78,-3.7],[4.92,-3.3],
[3.38,-1.0],[3.68,-0.5],[3.98,-1.3],[4.28,-2.0],[4.58,0.0],[4.88,-0.9],[3.48,-6.3],[3.78,-5.6],[4.08,-6.1],[4.38,-5.0],[4.68,-5.8],[4.98,-6.2],
[5.1,-3.9],[5.2,-2.7],[5.3,-4.8],[5.4,-3.3],[5.5,-5.6],[5.6,-1.9],[5.7,-4.2],[5.8,-3.0],[5.9,-5.1],[6.0,-3.7],[6.2,-2.4],[6.4,-4.5],[6.6,-3.5],[6.8,-5.4],[7.0,-2.9],[7.2,-4.0],[7.4,-6.0],[7.6,-3.3],[7.8,-4.7],[8.0,-2.2],[8.3,-3.8],[8.6,-5.2],[8.9,-3.1],[9.2,-4.3],[9.5,-2.6],[9.8,-3.6],[10.2,-5.0],[10.6,-2.9],[11.0,-4.1],[11.5,-3.4],[11.9,-4.5],[13.0,-4.35],[14.9,-3.6],[11.6,-1.75],[8.5,-1.4],[9.2,-1.2],[10.0,0.2],[5.8,0.25],[5.3,-0.7],[6.5,-1.2],[7.5,-1.7],[6.1,-6.5],[5.5,-6.8],[8.0,-6.3],[23.5,-2.4],[27.5,-3.2],[16.5,-2.7],[12.5,-2.2],[5.2,-5.9],[6.9,-4.1],[7.9,-3.2],[9.0,-4.8],[8.4,-5.1],[9.6,-5.2],[11.9,-5.1],[12.2,-5.0],[13.7,-3.9],[12.9,-3.4],
[0.80,-3.7],[0.85,-4.0],[0.90,-3.6],[0.95,-4.1],[1.00,-3.5],[1.05,-3.9],[1.10,-3.3],[1.15,-4.4],[1.20,-3.6],[1.25,-4.0],[1.30,-3.4],[1.35,-3.7],[1.40,-4.1],[1.45,-3.5],[1.50,-3.9],[1.55,-3.3],[1.60,-4.2],[1.65,-3.6],[1.70,-4.0],[1.75,-3.4],[1.80,-3.8],[1.85,-4.3],[1.90,-3.5],[1.95,-3.9],[2.00,-3.6],[2.05,-4.0],[2.10,-3.4],[2.15,-4.3],[2.20,-3.7],[2.25,-3.3],[2.30,-4.1],[2.35,-3.8],[2.40,-4.4],[2.45,-3.5],[2.50,-3.9],[2.60,-3.6],[2.70,-4.2],[2.80,-3.7],[2.90,-4.0],[3.00,-3.3],
[0.82,-3.1],[0.87,-4.5],[0.92,-3.2],[0.97,-4.6],[1.02,-3.0],[1.07,-4.3],[1.12,-2.9],[1.17,-3.6],[1.22,-4.7],[1.27,-2.9],[1.32,-4.4],[1.37,-3.0],[1.42,-4.8],[1.47,-3.0],[1.52,-4.4],[1.57,-2.8],[1.62,-4.7],[1.67,-3.1],[1.72,-4.5],[1.77,-2.9],[1.82,-4.9],[1.87,-3.2],[1.92,-4.6],[1.97,-2.8],[2.02,-4.6],[2.07,-3.1],[2.12,-4.9],[2.17,-2.9],[2.22,-4.5],[2.27,-2.7],[2.32,-4.7],[2.37,-3.2],[2.42,-4.0],[2.47,-2.9],[2.52,-4.5],[2.62,-3.1],[2.72,-4.7],[2.82,-3.2],[2.92,-4.5],[3.02,-3.8],
[1.03,-3.7],[1.13,-4.0],[1.23,-3.3],[1.33,-3.9],[1.43,-3.4],[1.53,-4.0],[1.63,-3.7],[1.73,-3.9],[1.83,-3.3],[1.93,-4.1],[2.03,-3.8],[2.13,-3.6],[2.23,-4.0],[2.33,-3.4],[2.43,-3.7],[0.75,-3.9],[0.70,-3.4],[0.65,-4.0],[0.60,-3.7],[0.55,-3.3]];
const openRCore = [
[0.78,-3.5],[0.81,-4.1],[0.84,-3.3],[0.86,-4.5],[0.89,-3.8],[0.91,-3.0],[0.94,-4.2],[0.96,-3.6],[0.99,-4.8],[1.01,-3.3],[1.04,-4.0],[1.06,-3.5],[1.09,-4.4],[1.11,-3.1],[1.14,-3.9],[1.16,-4.6],[1.19,-3.4],[1.21,-4.2],[1.24,-3.7],[1.26,-4.9],[1.29,-3.2],[1.31,-4.0],[1.34,-3.6],[1.36,-4.5],[1.39,-3.0],[1.41,-3.9],[1.44,-4.3],[1.46,-3.4],[1.49,-4.1],[1.51,-3.7],[1.54,-4.6],[1.56,-3.3],[1.59,-3.9],[1.61,-4.4],[1.64,-3.5],[1.66,-4.1],[1.69,-3.1],[1.71,-3.8],[1.74,-4.5],[1.76,-3.6],[1.79,-4.2],[1.81,-3.2],[1.84,-4.0],[1.86,-3.7],[1.89,-4.6],[1.91,-3.4],[1.94,-4.1],[1.96,-3.6],[1.99,-4.4],[2.02,-3.3],[2.06,-3.9],[2.09,-4.5],[2.13,-3.5],[2.16,-4.1],[2.20,-3.2],[2.24,-4.3],[2.28,-3.7],[2.32,-3.1],[2.36,-4.2],[2.40,-3.6],[2.44,-4.7],[2.48,-3.4],[2.53,-4.1],[2.58,-3.8],[2.64,-4.4],[2.70,-3.3],[2.76,-4.0],[2.84,-3.6],[2.92,-4.3],[3.00,-3.9],
[0.80,-2.9],[0.83,-4.7],[0.85,-3.6],[0.88,-2.7],[0.90,-4.4],[0.93,-3.4],[0.95,-2.9],[0.98,-4.0],[1.00,-2.6],[1.03,-4.6],[1.05,-3.1],[1.08,-3.8],[1.10,-5.0],[1.13,-3.2],[1.15,-2.6],[1.18,-4.1],[1.20,-4.9],[1.23,-2.8],[1.25,-3.4],[1.28,-4.4],[1.30,-2.7],[1.33,-4.8],[1.35,-3.3],[1.38,-3.9],[1.40,-2.8],[1.43,-4.5],[1.45,-3.9],[1.48,-2.6],[1.50,-4.8],[1.53,-3.5],[1.55,-4.0],[1.58,-3.0],[1.60,-3.7],[1.63,-4.9],[1.65,-2.9],[1.68,-4.3],[1.70,-3.5],[1.73,-2.7],[1.75,-4.0],[1.78,-4.7],[1.80,-3.0],[1.83,-3.6],[1.85,-4.5],[1.88,-2.8],[1.90,-3.9],[1.93,-4.8],[1.95,-3.0],[1.98,-3.5],[2.01,-4.2],[2.04,-2.8],[2.08,-4.8],[2.11,-3.3],[2.14,-3.9],[2.18,-2.7],[2.22,-4.7],[2.26,-3.6],[2.30,-2.9],[2.34,-4.4],[2.38,-3.2],[2.42,-4.9],[2.46,-3.8],[2.50,-2.8],[2.56,-4.3],[2.62,-3.9],[2.68,-4.8],[2.74,-3.5],[2.80,-4.2],[2.88,-3.0],[2.96,-4.6],[3.04,-3.6],
[1.02,-3.9],[1.12,-3.5],[1.22,-4.1],[1.32,-3.5],[1.42,-3.7],[1.52,-3.2],[1.62,-3.9],[1.72,-3.4],[1.82,-4.1],[1.92,-3.8],[2.05,-3.7],[2.15,-4.0],[2.25,-3.6],[2.35,-4.0],[2.45,-4.2],[0.72,-3.6],[0.68,-4.2],[0.63,-3.5],[0.58,-4.4],[0.53,-3.7],
[0.60,-3.2],[0.62,-4.6],[0.65,-2.7],[0.67,-3.9],[0.70,-5.0],[0.72,-2.9],[0.75,-4.3],[0.77,-3.4],[0.80,-5.3],[0.82,-2.5],[0.85,-4.2],[0.87,-3.0],[0.90,-5.4],[0.92,-2.6],[0.95,-4.0],[0.97,-5.2],[1.00,-2.3],[1.03,-5.0],[1.06,-2.4],[1.09,-5.3],[1.12,-2.2],[1.15,-5.1],[1.18,-2.5],[1.21,-5.5],[1.24,-2.2],[1.27,-5.2],[1.30,-2.4],[1.33,-5.6],[1.36,-2.1],[1.39,-5.3],[1.42,-2.5],[1.45,-5.7],[1.48,-2.1],[1.51,-5.4],[1.54,-2.4],[1.57,-5.6],[1.60,-2.2],[1.63,-5.3],[1.66,-2.5],[1.69,-5.5],[1.72,-2.1],[1.75,-5.2],[1.78,-2.4],[1.81,-5.6],[1.84,-2.2],[1.87,-5.4],[1.90,-2.5],[1.93,-5.1],[1.96,-2.3],[2.00,-5.4],[2.05,-2.5],[2.10,-5.2],[2.15,-2.2],[2.20,-5.5],[2.25,-2.4],[2.30,-5.1],[2.35,-2.6],[2.40,-5.3],[2.45,-2.3],[2.50,-5.0],[2.56,-2.6],[2.62,-5.2],[2.68,-2.5],[2.74,-4.9],[2.80,-2.8],[2.88,-5.1],[2.96,-2.6],[3.05,-4.8],[3.15,-3.0],[3.25,-4.4],[3.40,-3.0],[3.55,-4.6],[3.70,-3.2],[3.85,-4.3],[4.00,-3.0],
[0.64,-3.6],[0.69,-4.4],[0.74,-3.7],[0.79,-4.9],[0.84,-3.9],[0.89,-4.8],[0.94,-2.8],[0.99,-3.9],[1.04,-4.7],[1.09,-2.9],[1.14,-4.2],[1.19,-2.8],[1.24,-4.4],[1.29,-3.6],[1.34,-4.9],[1.39,-3.5],[1.44,-4.7],[1.49,-3.0],[1.54,-4.9],[1.59,-3.4],[1.64,-4.4],[1.69,-2.9],[1.74,-4.7],[1.79,-3.3],[1.84,-4.8],[1.89,-3.6],[1.94,-4.5],[1.99,-3.0],[2.04,-4.4],[2.09,-2.9],[2.14,-4.7],[2.19,-3.3],[2.24,-4.8],[2.29,-3.5],[2.34,-4.6],[2.39,-2.9],[2.44,-4.2],[2.54,-3.2],[2.64,-4.6],[2.74,-3.0],[2.84,-4.4],[2.94,-3.3],[3.04,-4.3],[3.20,-3.6],[3.40,-4.2],[3.60,-3.7],[3.80,-3.9]];
const blissR = {x:23.7, y:0.0, xlo:22.6, xhi:24.8, ylo:-1.65, yhi:0.7};

// ---------------- drawing ----------------
const svg = d3.select("#c");
const FONT = '"Liberation Serif","Times New Roman",serif';
const Y = d3.scaleLinear().domain([-16,2]).range([10,500]);
const triPath = h => `M0,${-h}L${-h},${h}L${h},${h}Z`;
const starSize = R => R*R/0.8908130915292852;
const starGen = R => d3.symbol(d3.symbolStar, starSize(R))();
const fmtY = d => d < 0 ? "\u2212" + Math.abs(d) : String(d);
const CR = 3.6;

function drawMarkers(g, X, open, glob, dwarf, cand, halo, b) {
  g.append("g").selectAll("circle").data(open).join("circle")
    .attr("cx", d => X(d[0])).attr("cy", d => Y(d[1])).attr("r", CR)
    .attr("fill", "none").attr("stroke", "#ff0000").attr("stroke-opacity", 0.33).attr("stroke-width", 1.6);
  g.append("g").selectAll("circle").data(glob).join("circle")
    .attr("cx", d => X(d[0])).attr("cy", d => Y(d[1])).attr("r", CR)
    .attr("fill", "none").attr("stroke", "#000").attr("stroke-opacity", 0.5).attr("stroke-width", 1.6);
  g.append("g").selectAll("path").data(dwarf).join("path")
    .attr("d", triPath(7.4)).attr("transform", d => `translate(${X(d[0])},${Y(d[1])})`)
    .attr("fill", "#0000ff").attr("fill-opacity", 0.5);
  g.append("g").selectAll("path").data(cand).join("path")
    .attr("d", triPath(7)).attr("transform", d => `translate(${X(d[0])},${Y(d[1])})`)
    .attr("fill", "none").attr("stroke", "#0000ff").attr("stroke-opacity", 0.5).attr("stroke-width", 2);
  g.append("g").selectAll("path").data(halo).join("path")
    .attr("d", starGen(6.5)).attr("transform", d => `translate(${X(d[0])},${Y(d[1])})`)
    .attr("fill", "#000").attr("fill-opacity", 0.5);
  const bg = g.append("g");
  bg.append("line").attr("x1", X(b.x)).attr("x2", X(b.x)).attr("y1", Y(b.ylo)).attr("y2", Y(b.yhi)).attr("stroke", "#000").attr("stroke-width", 1.8);
  bg.append("line").attr("x1", X(b.xlo)).attr("x2", X(b.xhi)).attr("y1", Y(b.y)).attr("y2", Y(b.y)).attr("stroke", "#000").attr("stroke-width", 1.8);
  bg.append("path").attr("d", starGen(14.5)).attr("transform", `translate(${X(b.x)},${Y(b.y)})`)
    .attr("fill", "#fde12a").attr("stroke", "#000").attr("stroke-width", 1);
}

function panel(cfg) {
  const X = d3.scaleLog().domain([0.3, 300]).range([cfg.x0, cfg.x1]);
  const g = svg.append("g");
  const cid = "clip" + cfg.id;
  svg.append("clipPath").attr("id", cid).append("rect")
    .attr("x", cfg.x0).attr("y", 10).attr("width", cfg.x1 - cfg.x0).attr("height", 490);
  const pg = g.append("g").attr("clip-path", `url(#${cid})`);
  drawMarkers(pg, X, cfg.open, cfg.glob, cfg.dwarf, cfg.cand, cfg.halo, cfg.bliss);

  const ay = g.append("g").attr("transform", `translate(${cfg.x0},0)`)
    .call(d3.axisLeft(Y).tickValues(yTicks).tickSize(5).tickSizeOuter(0).tickPadding(4).tickFormat(fmtY));
  ay.select(".domain").remove();
  ay.attr("font-family", null).attr("font-size", null);
  ay.selectAll("line").attr("stroke-width", 1.2);
  ay.selectAll("text").attr("font-family", FONT).attr("font-size", 20);

  const ax = g.append("g").attr("transform", `translate(0,500)`)
    .call(d3.axisBottom(X).tickValues(xMajor).tickSize(5).tickSizeOuter(0).tickPadding(8).tickFormat(""));
  ax.select(".domain").remove();
  ax.attr("font-family", null).attr("font-size", null);
  ax.selectAll("line").attr("stroke-width", 1.2);
  ax.selectAll(".tick text").attr("font-family", FONT).attr("font-size", 20).attr("dy", "0.95em")
    .each(function(d) {
      const t = d3.select(this);
      t.append("tspan").text("10");
      t.append("tspan").attr("dy", "-0.45em").attr("font-size", 14).text(Math.round(Math.log10(d)));
    });
  const am = g.append("g").attr("transform", `translate(0,500)`)
    .call(d3.axisBottom(X).tickValues(xMinor).tickSize(3).tickSizeOuter(0).tickFormat(""));
  am.select(".domain").remove();
  am.selectAll("line").attr("stroke-width", 1);

  g.append("rect").attr("x", cfg.x0).attr("y", 10).attr("width", cfg.x1 - cfg.x0).attr("height", 490)
    .attr("fill", "none").attr("stroke", "#000").attr("stroke-width", 1.3);

  g.append("text").attr("x", cfg.xlc).attr("y", 562).attr("text-anchor", "middle")
    .attr("font-family", FONT).attr("font-size", 27).text(cfg.xlabel);
  const yl = g.append("text").attr("transform", `translate(${cfg.ylx},255) rotate(-90)`).attr("text-anchor", "middle")
    .attr("font-family", FONT).attr("font-size", 25);
  yl.append("tspan").attr("font-style", "italic").text("M");
  yl.append("tspan").attr("font-style", "italic").attr("font-size", 18).attr("dy", 4).text("v");
  yl.append("tspan").attr("dy", -4).text(" (mag)");
  return {X, g};
}

panel({id: "L", x0: 100, x1: 664, xlc: 384, open: openL.concat(openLCore), glob: globL, dwarf: dwarfL, cand: candL, halo: haloL, bliss: blissL, xlabel: xLabels[0], ylx: 33});
panel({id: "R", x0: 777, x1: 1336, xlc: 1056, open: openR.concat(openRCore), glob: globR, dwarf: dwarfR, cand: candR, halo: haloR, bliss: blissR, xlabel: xLabels[1], ylx: 709});

// legend
const lg = svg.append("g");
const rows = [26, 52, 78, 104, 129.5, 155];
const mx = 131, tx = 164;
legendLabels.forEach((lab, i) => {
  const cy = rows[i];
  const m = lg.append("g").attr("transform", `translate(${mx},${cy})`);
  if (i === 0) m.append("path").attr("d", triPath(7.4)).attr("fill", "#0000ff").attr("fill-opacity", 0.5);
  if (i === 1) m.append("path").attr("d", triPath(7)).attr("fill", "none").attr("stroke", "#0000ff").attr("stroke-opacity", 0.5).attr("stroke-width", 2);
  if (i === 2) m.append("circle").attr("r", CR).attr("fill", "none").attr("stroke", "#ff0000").attr("stroke-opacity", 0.33).attr("stroke-width", 1.6);
  if (i === 3) m.append("circle").attr("r", CR).attr("fill", "none").attr("stroke", "#000").attr("stroke-opacity", 0.5).attr("stroke-width", 1.6);
  if (i === 4) m.append("path").attr("d", starGen(6.2)).attr("fill", "#000").attr("fill-opacity", 0.5);
  if (i === 5) m.append("path").attr("d", starGen(13.5)).attr("fill", "#fde12a").attr("stroke", "#000").attr("stroke-width", 1);
  lg.append("text").attr("x", tx).attr("y", cy + 6).attr("font-family", FONT).attr("font-size", 20).text(lab);
});
</script>
</body></html>
